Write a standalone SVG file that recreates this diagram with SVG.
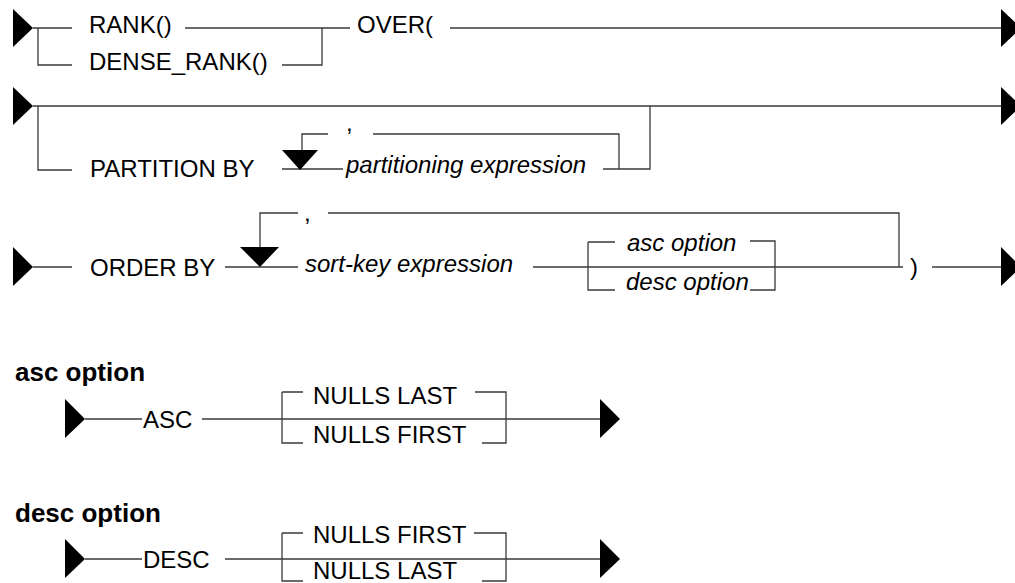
<svg xmlns="http://www.w3.org/2000/svg" width="1015" height="583" viewBox="0 0 1015 583">
<style>
.t{font-family:"Liberation Sans",Arial,sans-serif;font-size:24px;fill:#000}
.i{font-style:italic}
.b{font-weight:bold;font-size:26px}
.c{fill:none;stroke:#3a3a3a;stroke-width:1.3}
.a{fill:#000;stroke:none}
</style>
<rect width="1015" height="583" fill="#fff"/>
<g id="connectors">
<!-- row 1 -->
<path class="c" d="M33 28H72M38 28V65H72M185 28H350M282 65H322V28M450 28H1002"/>
<!-- row 2 -->
<path class="c" d="M33 106H1002M38 106V170H72M282 169H343M302 150V134H328M373 134H619V169H603M619 169H650V106"/>
<!-- row 3 -->
<path class="c" d="M33 267H72M225 267H298M260 247V213H298M328 213H899V267M533 267H903M588 242V290H615M588 242H615M750 241H775V290H750M932 267H1002"/>
<!-- asc option -->
<path class="c" d="M85 419H142M202 419H600M282 392V443H303M282 392H303M475 392H506V443H482"/>
<!-- desc option -->
<path class="c" d="M85 559H142M225 559H600M282 533V581H303M282 533H303M474 533H506V581H482"/>
<!-- terminals -->
<polygon class="a" points="13,9 33,28 13,47"/>
<polygon class="a" points="1001,9 1021,28 1001,47"/>
<polygon class="a" points="13,87 33,106 13,125"/>
<polygon class="a" points="1001,87 1021,106 1001,125"/>
<polygon class="a" points="13,247 33,267 13,286"/>
<polygon class="a" points="1001,247 1021,267 1001,286"/>
<polygon class="a" points="65,399 85,419 65,438"/>
<polygon class="a" points="600,399 620,419 600,438"/>
<polygon class="a" points="65,539 85,559 65,578"/>
<polygon class="a" points="600,539 620,559 600,578"/>
<!-- repeat arrows -->
<polygon class="a" points="282,150 318,150 300,170"/>
<polygon class="a" points="240,247 279,247 260,267"/>
</g>
<g id="rank"><text class="t" x="89" y="33">RANK()</text></g>
<g id="dense_rank"><text class="t" x="89" y="70">DENSE_RANK()</text></g>
<g id="over"><text class="t" x="357" y="33">OVER(</text></g>
<g id="partition_by"><text class="t" x="90" y="177">PARTITION BY</text></g>
<g id="comma1"><text class="t" x="346" y="131">,</text></g>
<g id="partitioning_expression"><text class="t i" x="346" y="173">partitioning expression</text></g>
<g id="order_by"><text class="t" x="90" y="276">ORDER BY</text></g>
<g id="comma2"><text class="t" x="304" y="221">,</text></g>
<g id="sort_key_expression"><text class="t i" x="305" y="272">sort-key expression</text></g>
<g id="asc_option_ref"><text class="t i" x="627" y="251">asc option</text></g>
<g id="desc_option_ref"><text class="t i" x="626" y="290">desc option</text></g>
<g id="close_paren"><text class="t" x="910" y="275">)</text></g>
<g id="asc_option_title"><text class="t b" x="15" y="381">asc option</text></g>
<g id="asc"><text class="t" x="143" y="428">ASC</text></g>
<g id="asc_nulls_last"><text class="t" x="313" y="404">NULLS LAST</text></g>
<g id="asc_nulls_first"><text class="t" x="313" y="443">NULLS FIRST</text></g>
<g id="desc_option_title"><text class="t b" x="15" y="522">desc option</text></g>
<g id="desc"><text class="t" x="143" y="568">DESC</text></g>
<g id="desc_nulls_first"><text class="t" x="313" y="543">NULLS FIRST</text></g>
<g id="desc_nulls_last"><text class="t" x="313" y="579">NULLS LAST</text></g>
</svg>
